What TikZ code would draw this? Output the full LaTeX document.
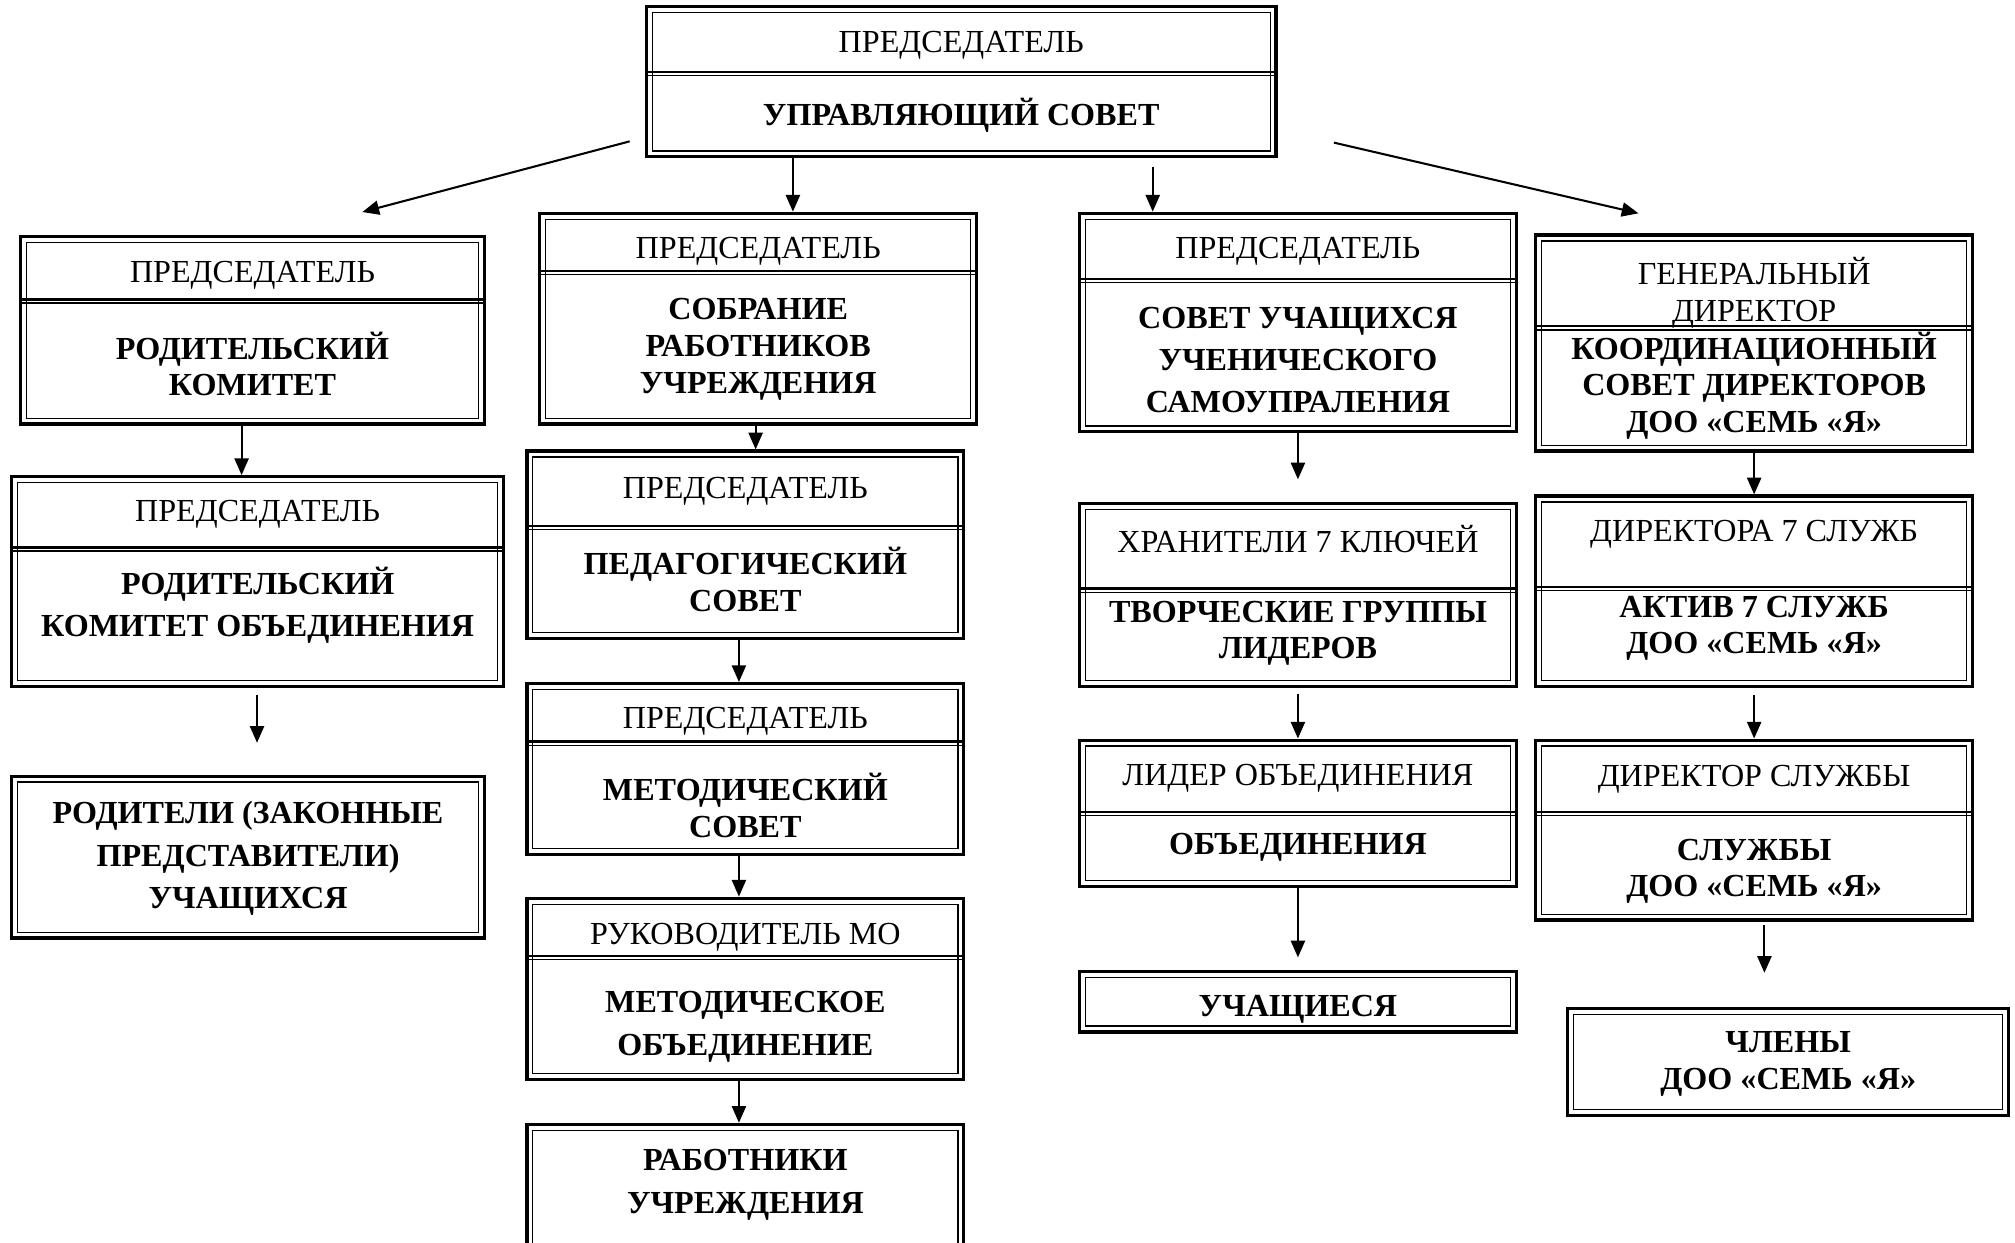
\documentclass[tikz,border=0pt]{standalone}
\usepackage{fontspec}
\setmainfont{Liberation Serif}
\usetikzlibrary{arrows.meta,fit}

\begin{document}
\begin{tikzpicture}[x=0.5pt,y=-0.5pt,
    box/.style={draw, line width=1.3pt, inner sep=0pt,
        path picture={\draw[line width=0.5pt]
            ([shift={(2.3pt,-2.3pt)}]path picture bounding box.north west) rectangle
            ([shift={(-2.3pt,2.3pt)}]path picture bounding box.south east);}},
    divider/.style={line width=0.85pt, shorten <=1pt, shorten >=1pt,
        postaction={draw, line width=0.45pt, transform canvas={yshift=-1.4pt}}},
    even/.style={execute at begin node=\rule[-2.4pt]{0pt}{10.7pt},
        execute at end node=\rule[-2.4pt]{0pt}{10.7pt}},
    head/.style={inner sep=0pt, align=center, even, yshift=-1.2pt, font=\fontsize{12.5}{14.5}\selectfont},
    body/.style={inner sep=0pt, align=center, even, yshift=-1.2pt, font=\bfseries\fontsize{12.5}{14.25}\selectfont},
    loose/.style={font=\bfseries\fontsize{12.5}{16.5}\selectfont},
    arr/.style={line width=0.8pt, -{Triangle[length=6.5pt,width=5.5pt]}}]
    \useasboundingbox (0,0) rectangle (1568,967);

    \node[box, fit={(503,5) (993,122)}] (gov) {};
    \draw[divider] (gov.west |- 0,56) -- (gov.east |- 0,56);
    \node[head] (govH) at (748,33) {ПРЕДСЕДАТЕЛЬ};
    \node[body] (govB) at (748,87) {УПРАВЛЯЮЩИЙ СОВЕТ};

    \node[box, fit={(16,184) (377,330)}] (parCom) {};
    \draw[divider] (parCom.west |- 0,233) -- (parCom.east |- 0,233);
    \node[head] (parComH) at (196.5,212) {ПРЕДСЕДАТЕЛЬ};
    \node[body] (parComB) at (196.5,283) {РОДИТЕЛЬСКИЙ\\КОМИТЕТ};

    \node[box, fit={(9,371) (392,534)}] (parUnion) {};
    \draw[divider] (parUnion.west |- 0,426) -- (parUnion.east |- 0,426);
    \node[head] (parUnionH) at (200.5,398) {ПРЕДСЕДАТЕЛЬ};
    \node[body, loose] (parUnionB) at (200.5,468.5) {РОДИТЕЛЬСКИЙ\\КОМИТЕТ ОБЪЕДИНЕНИЯ};

    \node[box, fit={(9,604) (377,730)}] (parents) {};
    \node[body, loose] (parentsB) at (193,665.5) {РОДИТЕЛИ (ЗАКОННЫЕ\\ПРЕДСТАВИТЕЛИ)\\УЧАЩИХСЯ};

    \node[box, fit={(420,166) (760,330)}] (staffMeet) {};
    \draw[divider] (staffMeet.west |- 0,211) -- (staffMeet.east |- 0,211);
    \node[head] (staffMeetH) at (590,193) {ПРЕДСЕДАТЕЛЬ};
    \node[body] (staffMeetB) at (590,269.5) {СОБРАНИЕ\\РАБОТНИКОВ\\УЧРЕЖДЕНИЯ};

    \node[box, fit={(410,351) (750,497)}] (pedCouncil) {};
    \draw[divider] (pedCouncil.west |- 0,409) -- (pedCouncil.east |- 0,409);
    \node[head] (pedCouncilH) at (580,380) {ПРЕДСЕДАТЕЛЬ};
    \node[body] (pedCouncilB) at (580,451) {ПЕДАГОГИЧЕСКИЙ\\СОВЕТ};

    \node[box, fit={(410,532) (750,665)}] (methCouncil) {};
    \draw[divider] (methCouncil.west |- 0,577) -- (methCouncil.east |- 0,577);
    \node[head] (methCouncilH) at (580,559) {ПРЕДСЕДАТЕЛЬ};
    \node[body] (methCouncilB) at (580,626.5) {МЕТОДИЧЕСКИЙ\\СОВЕТ};

    \node[box, fit={(410,699) (750,840)}] (methUnion) {};
    \draw[divider] (methUnion.west |- 0,744) -- (methUnion.east |- 0,744);
    \node[head] (methUnionH) at (580,727) {РУКОВОДИТЕЛЬ МО};
    \node[body, loose] (methUnionB) at (580,796.5) {МЕТОДИЧЕСКОЕ\\ОБЪЕДИНЕНИЕ};

    \node[box, fit={(410,875) (750,975)}] (staff) {};
    \node[body, loose] (staffB) at (580,919.5) {РАБОТНИКИ\\УЧРЕЖДЕНИЯ};

    \node[box, fit={(840,166) (1180,336)}] (stCouncil) {};
    \draw[divider] (stCouncil.west |- 0,217) -- (stCouncil.east |- 0,217);
    \node[head] (stCouncilH) at (1010,193) {ПРЕДСЕДАТЕЛЬ};
    \node[body, loose] (stCouncilB) at (1010,280) {СОВЕТ УЧАЩИХСЯ\\УЧЕНИЧЕСКОГО\\САМОУПРАЛЕНИЯ};

    \node[box, fit={(840,392) (1180,534)}] (leaders) {};
    \draw[divider] (leaders.west |- 0,458) -- (leaders.east |- 0,458);
    \node[head] (leadersH) at (1010,419) {ХРАНИТЕЛИ 7 КЛЮЧЕЙ};
    \node[body] (leadersB) at (1010,490.5) {ТВОРЧЕСКИЕ ГРУППЫ\\ЛИДЕРОВ};

    \node[box, fit={(840,576) (1180,690)}] (union) {};
    \draw[divider] (union.west |- 0,632) -- (union.east |- 0,632);
    \node[head] (unionH) at (1010,603) {ЛИДЕР ОБЪЕДИНЕНИЯ};
    \node[body] (unionB) at (1010,657) {ОБЪЕДИНЕНИЯ};

    \node[box, fit={(840,756) (1180,803)}] (pupils) {};
    \node[body] (pupilsB) at (1010,783) {УЧАЩИЕСЯ};

    \node[box, fit={(1195,183) (1535,351)}] (coord) {};
    \draw[divider] (coord.west |- 0,254) -- (coord.east |- 0,254);
    \node[head] (coordH) at (1365,225.5) {ГЕНЕРАЛЬНЫЙ\\ДИРЕКТОР};
    \node[body] (coordB) at (1365,297.5) {КООРДИНАЦИОННЫЙ\\СОВЕТ ДИРЕКТОРОВ\\ДОО «СЕМЬ «Я»};

    \node[box, fit={(1195,386) (1535,534)}] (active) {};
    \draw[divider] (active.west |- 0,457) -- (active.east |- 0,457);
    \node[head] (activeH) at (1365,413) {ДИРЕКТОРА 7 СЛУЖБ};
    \node[body] (activeB) at (1365,486.5) {АКТИВ 7 СЛУЖБ\\ДОО «СЕМЬ «Я»};

    \node[box, fit={(1195,576) (1535,716)}] (service) {};
    \draw[divider] (service.west |- 0,632) -- (service.east |- 0,632);
    \node[head] (serviceH) at (1365,604) {ДИРЕКТОР СЛУЖБЫ};
    \node[body] (serviceB) at (1365,675.5) {СЛУЖБЫ\\ДОО «СЕМЬ «Я»};

    \node[box, fit={(1220,785) (1563,868)}] (members) {};
    \node[body] (membersB) at (1391.5,825.5) {ЧЛЕНЫ\\ДОО «СЕМЬ «Я»};

    \coordinate (govL) at (490,110);
    \coordinate (govR) at (1038,111);
    \coordinate (govC) at (897,130);
    \coordinate (parComIn) at (282,165);
    \coordinate (coordIn) at (1275,166);
    \coordinate (parUnionOut) at (200,541);
    \coordinate (parentsIn) at (200,578);
    \coordinate (leadersIn) at (1010,373);
    \coordinate (leadersOut) at (1010,540);
    \coordinate (pupilsIn) at (1010,745);
    \coordinate (activeOut) at (1365,541);
    \coordinate (serviceOut) at (1373,720);
    \coordinate (membersIn) at (1373,757);

    \draw[arr] (govL) -- (parComIn);
    \draw[arr] (gov.south -| 617,0) -- (staffMeet.north -| 617,0);
    \draw[arr] (govC) -- (stCouncil.north -| govC);
    \draw[arr] (govR) -- (coordIn);

    \draw[arr] (parCom.south -| 188,0) -- (parUnion.north -| 188,0);
    \draw[arr] (parUnionOut) -- (parentsIn);

    \draw[arr] (staffMeet.south -| 588,0) -- (pedCouncil.north -| 588,0);
    \draw[arr] (pedCouncil.south -| 575,0) -- (methCouncil.north -| 575,0);
    \draw[arr] (methCouncil.south -| 575,0) -- (methUnion.north -| 575,0);
    \draw[arr] (methUnion.south -| 575,0) -- (staff.north -| 575,0);

    \draw[arr] (stCouncil.south) -- (leadersIn);
    \draw[arr] (leadersOut) -- (union.north);
    \draw[arr] (union.south) -- (pupilsIn);

    \draw[arr] (coord.south) -- (active.north);
    \draw[arr] (activeOut) -- (service.north);
    \draw[arr] (serviceOut) -- (membersIn);
\end{tikzpicture}
\end{document}
